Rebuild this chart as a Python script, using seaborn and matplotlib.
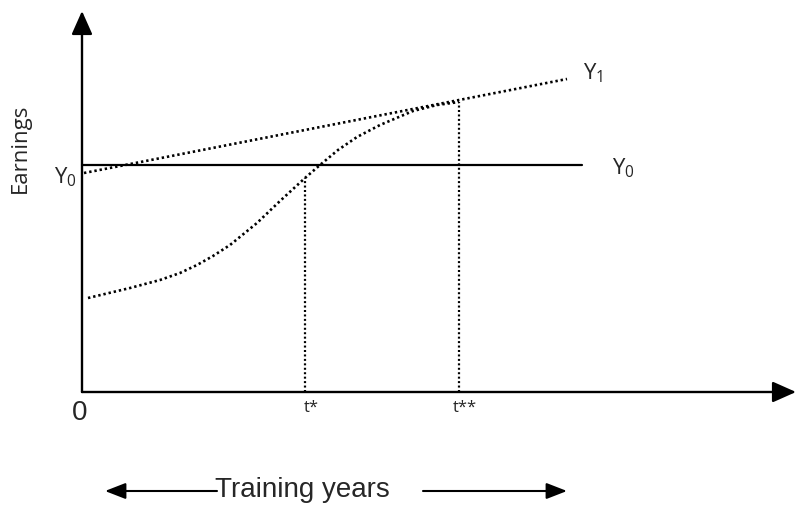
import matplotlib
matplotlib.use("Agg")
import matplotlib.pyplot as plt
import seaborn as sns
import pandas as pd

# ---- data (diagram units: x = training years scale, y = earnings scale) ----
curve_x = [6, 48, 78, 98, 115, 131, 148, 175, 198, 223, 238, 256, 275, 298, 331, 355, 377]
curve_y = [94, 104, 112, 119, 127, 136, 147, 169, 191, 214, 227, 242, 255, 267, 281, 287, 290]
y1_x = [2, 485]
y1_y = [219, 313]
y0_x = [0, 500]
y0_y = [227, 227]
t_star = 223
t_star2 = 377
axis_x_max = 714
axis_y_max = 381

sns.set_theme(style="white")
plt.rcParams['font.family'] = ['Open Sans', 'DejaVu Sans']
plt.rcParams['mathtext.fontset'] = 'custom'
plt.rcParams['mathtext.rm'] = 'Open Sans'
plt.rcParams['mathtext.it'] = 'Open Sans'

fig = plt.figure(figsize=(7.96, 5.06), dpi=100)
ax = fig.add_axes([0, 0, 1, 1])
ax.set_xlim(-82, 714)
ax.set_ylim(-113, 393)
ax.axis('off')

dot = (0, (0.9, 1.1))
df_curve = pd.DataFrame({"x": curve_x, "y": curve_y})
sns.lineplot(data=df_curve, x="x", y="y", ax=ax, color="black", lw=1.9,
             linestyle=dot, sort=False)
sns.lineplot(x=y1_x, y=y1_y, ax=ax, color="black", lw=1.9, linestyle=dot)
sns.lineplot(x=y0_x, y=y0_y, ax=ax, color="black", lw=1.6)
ax.vlines([t_star], 0, curve_y[curve_x.index(t_star)], colors="black", lw=1.6, linestyles=[dot])
ax.vlines([t_star2], 0, curve_y[curve_x.index(t_star2)], colors="black", lw=1.6, linestyles=[dot])

# axes with arrows
ap = dict(arrowstyle='-|>,head_length=0.9,head_width=0.4', color='black', lw=1.7,
          shrinkA=0, shrinkB=0, mutation_scale=16)
ax.annotate('', xy=(axis_x_max, 0), xytext=(0, 0), arrowprops=ap)
ax.annotate('', xy=(0, axis_y_max), xytext=(0, 0), arrowprops=ap)

# labels
ax.text(-62, 245, "Earnings", rotation=90, ha='center', va='center', fontsize=16)
ax.text(-5, 216, r"Y$_0$", ha='right', va='center', fontsize=16)
ax.text(501, 320, r"Y$_1$", ha='left', va='center', fontsize=16)
ax.text(530, 225, r"Y$_0$", ha='left', va='center', fontsize=16)
ax.text(-2, -20, "0", ha='center', va='center', fontsize=20, family='Liberation Sans')
ax.text(222, -15, "t*", ha='left', va='center', fontsize=12)
ax.text(371, -15, "t**", ha='left', va='center', fontsize=12)
ax.text(133, -97, "Training years", ha='left', va='center', fontsize=20, family='Liberation Sans')

ap2 = dict(arrowstyle='-|>,head_length=0.9,head_width=0.35', color='black', lw=1.5,
           shrinkA=0, shrinkB=0, mutation_scale=14)
ax.annotate('', xy=(23, -99), xytext=(135, -99), arrowprops=ap2)
ax.annotate('', xy=(485, -99), xytext=(341, -99), arrowprops=ap2)

fig.savefig("out.png", dpi=100)
